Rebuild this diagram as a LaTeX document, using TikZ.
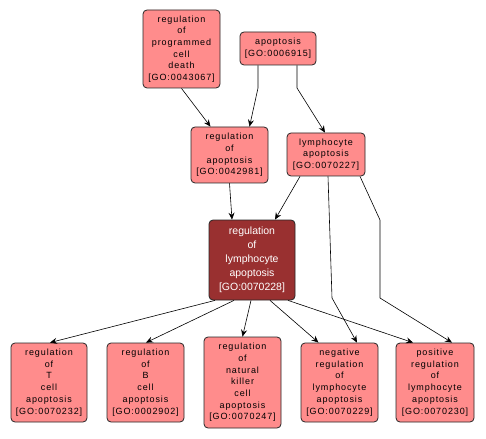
\documentclass[tikz,border=0pt]{standalone}
\usepackage{fontspec}
\usepackage{tikz}
\usetikzlibrary{positioning, arrows.meta, calc}
\newfontfamily\gofont[LetterSpace=10]{Liberation Sans}
\newfontfamily\gocentralfont{Liberation Sans}
\definecolor{gopink}{RGB}{255,140,140}
\definecolor{godark}{RGB}{153,48,48}

\begin{document}
\begin{tikzpicture}[
  x=1pt, y=-1pt,
  >={Stealth[length=7pt, width=6pt, inset=2.5pt]},
  goterm/.style={draw=black!85, fill=gopink, rounded corners=4pt, line width=0.8pt,
    align=center, inner sep=0pt, font=\gofont\fontsize{9}{11.7}\selectfont},
  goactive/.style={goterm, fill=godark, text=white,
    font=\gocentralfont\fontsize{10.5}{14}\selectfont},
  isa/.style={->, line width=0.6pt}
]
\fill[white] (0,0) rectangle (486,438);

% Top level terms
\node[goterm, minimum width=77, minimum height=78] (progdeath) at (181.5,49)
  {regulation\\of\\programmed\\cell\\death\\{[}GO:0043067{]}};
\node[goterm, minimum width=76, minimum height=33] (apop) at (278,48.5)
  {apoptosis\\{[}GO:0006915{]}};

% Second level
\node[goterm, minimum width=77, minimum height=56] (regapop) at (229.5,155)
  {regulation\\of\\apoptosis\\{[}GO:0042981{]}};
\node[goterm, minimum width=78, minimum height=43] (lymphapop) at (326,154.5)
  {lymphocyte\\apoptosis\\{[}GO:0070227{]}};

% Queried term
\node[goactive, minimum width=86, minimum height=80] (reglymph) at (252,260)
  {regulation\\of\\lymphocyte\\apoptosis\\{[}GO:0070228{]}};

% Children
\node[goterm, minimum width=76, minimum height=79] (tcell) at (49,382.5)
  {regulation\\of\\T\\cell\\apoptosis\\{[}GO:0070232{]}};
\node[goterm, minimum width=77, minimum height=79] (bcell) at (145.5,382.5)
  {regulation\\of\\B\\cell\\apoptosis\\{[}GO:0002902{]}};
\node[goterm, minimum width=77, minimum height=91] (nkcell) at (242.5,382.5)
  {regulation\\of\\natural\\killer\\cell\\apoptosis\\{[}GO:0070247{]}};
\node[goterm, minimum width=77, minimum height=79] (neglymph) at (339.5,382.5)
  {negative\\regulation\\of\\lymphocyte\\apoptosis\\{[}GO:0070229{]}};
\node[goterm, minimum width=78, minimum height=79] (poslymph) at (435,382.5)
  {positive\\regulation\\of\\lymphocyte\\apoptosis\\{[}GO:0070230{]}};

% Bend points
\coordinate (b1) at (258,88);
\coordinate (b2) at (297,88);
\coordinate (b3) at (332,298);
\coordinate (b4) at (380,220);
\coordinate (b5) at (380,298);

% Edges
\draw[isa] (progdeath.south) -- ([xshift=-19]regapop.north);
\draw[isa] ([xshift=-20]apop.south) -- (b1) -- ([xshift=20]regapop.north);
\draw[isa] ([xshift=19]apop.south) -- (b2) -- ([xshift=-1]lymphapop.north);
\draw[isa] (regapop.south) -- ([xshift=-20]reglymph.north);
\draw[isa] ([xshift=-26]lymphapop.south) -- ([xshift=23]reglymph.north);
\draw[isa] ([xshift=2]lymphapop.south) -- (b3) -- ([xshift=17.5]neglymph.north);
\draw[isa] ([xshift=34]lymphapop.south) -- (b4) -- (b5) -- ([xshift=17]poslymph.north);
\draw[isa] ([xshift=-37]reglymph.south) -- ([xshift=1]tcell.north);
\draw[isa] ([xshift=-18]reglymph.south) -- ([xshift=0.5]bcell.north);
\draw[isa] ([xshift=-1]reglymph.south) -- (nkcell.north);
\draw[isa] ([xshift=18]reglymph.south) -- ([xshift=-21]neglymph.north);
\draw[isa] ([xshift=36]reglymph.south) -- ([xshift=-22]poslymph.north);
\end{tikzpicture}
\end{document}
